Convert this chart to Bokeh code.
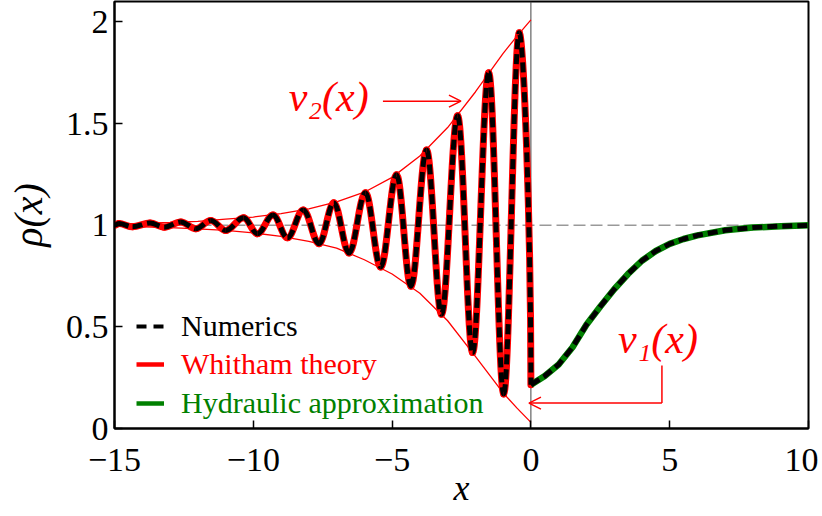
from bokeh.plotting import figure
from bokeh.models import (Range1d, FixedTicker, Span, Label, Arrow, OpenHead,
                          Legend, LegendItem, CustomJSTickFormatter)
from bokeh.embed import file_html
from bokeh.resources import INLINE

# ---------------- data ----------------
x_ticks = [-15, -10, -5, 0, 5, 10]
y_ticks = [0, 0.5, 1, 1.5, 2]

# extrema of the oscillating profile (x < 0)
peak_x = [-14.84, -13.72, -12.61, -11.53, -10.35, -9.29, -8.20, -7.10,
          -5.96, -4.84, -3.76, -2.64, -1.52, -0.42]
peak_rho = [1.008, 1.011, 1.016, 1.023, 1.036, 1.050, 1.075, 1.110,
            1.160, 1.248, 1.370, 1.538, 1.750, 1.946]
trough_x = [-14.35, -13.21, -12.07, -10.99, -9.85, -8.77, -7.63, -6.55,
            -5.41, -4.32, -3.22, -2.10, -0.98]
trough_rho = [0.992, 0.990, 0.982, 0.974, 0.958, 0.938, 0.909, 0.863,
              0.794, 0.700, 0.562, 0.374, 0.170]
wave_start_x, wave_start_rho = -15.0, 1.0
wave_end_x, wave_end_rho = 0.0, 0.215

# Whitham envelopes nu_1 (lower) and nu_2 (upper)
env_x = [-15, -14, -13, -12, -11, -10, -9, -8, -7, -6, -5, -4, -3, -2, -1, -0.5, 0]
nu2 = [1.005, 1.009, 1.013, 1.019, 1.030, 1.040, 1.057, 1.080, 1.115, 1.162,
       1.235, 1.340, 1.480, 1.655, 1.845, 1.930, 2.010]
nu1 = [0.995, 0.992, 0.988, 0.982, 0.974, 0.962, 0.945, 0.920, 0.887, 0.830,
       0.760, 0.665, 0.530, 0.355, 0.175, 0.100, 0.030]

# hydraulic approximation (x > 0)
hyd_x = [0, 0.5, 1, 1.5, 2, 2.5, 3, 3.5, 4, 4.5, 5, 5.5, 6, 7, 8, 9, 10]
hyd_rho = [0.215, 0.258, 0.315, 0.400, 0.510, 0.600, 0.685, 0.760, 0.825,
           0.873, 0.908, 0.932, 0.950, 0.975, 0.988, 0.995, 0.999]

legend_labels = ["Numerics", "Whitham theory", "Hydraulic approximation"]

# ---------------- smooth wave through the extrema (cubic Bezier) ----------------
pts = [(wave_start_x, wave_start_rho)] + sorted(
    list(zip(peak_x, peak_rho)) + list(zip(trough_x, trough_rho))) + [(wave_end_x, wave_end_rho)]
K = 0.363
seg = dict(x0=[], y0=[], x1=[], y1=[], cx0=[], cy0=[], cx1=[], cy1=[])
for i in range(len(pts) - 1):
    (xa, ya), (xb, yb) = pts[i], pts[i + 1]
    dx = xb - xa
    seg["x0"].append(xa); seg["y0"].append(ya)
    seg["x1"].append(xb); seg["y1"].append(yb)
    seg["cx0"].append(xa + K * dx); seg["cy0"].append(ya)
    if i == len(pts) - 2:
        seg["cx1"].append(xb); seg["cy1"].append(yb + 0.45 * (ya - yb))
    else:
        seg["cx1"].append(xb - K * dx); seg["cy1"].append(yb)

# ---------------- figure ----------------
SERIF = "Liberation Serif"
p = figure(width=818, height=514, x_range=Range1d(-15, 10), y_range=Range1d(0, 2.1),
           output_backend="svg", toolbar_location=None,
           min_border_left=114, min_border_right=10, min_border_top=1, min_border_bottom=86)
p.grid.visible = False
p.outline_line_color = "black"
p.outline_line_width = 2
p.background_fill_color = "white"
p.border_fill_color = "white"

fmt = CustomJSTickFormatter(code="return tick.toString().replace('-', '\\u2212');")
for ax in (p.xaxis[0], p.yaxis[0]):
    ax.axis_line_width = 2
    ax.major_tick_in = 8
    ax.major_tick_out = 0
    ax.major_tick_line_width = 1.5
    ax.minor_tick_line_color = None
    ax.major_label_text_font = SERIF
    ax.major_label_text_font_size = "34px"
    ax.major_label_text_color = "black"
    ax.formatter = fmt
    ax.axis_label_text_font = SERIF
    ax.axis_label_text_font_style = "italic"
    ax.axis_label_text_color = "black"
p.xaxis.ticker = FixedTicker(ticks=x_ticks)
p.yaxis.ticker = FixedTicker(ticks=y_ticks)
p.xaxis.major_label_standoff = 20
p.yaxis.major_label_standoff = 6
p.yaxis.axis_label = "ρ(x)"
p.yaxis.axis_label_text_font_size = "40px"
p.yaxis.axis_label_standoff = 12
p.xaxis.axis_label = "x"
p.xaxis.axis_label_text_font_size = "36px"
p.xaxis.axis_label_standoff = -6

# reference lines
p.add_layout(Span(location=1, dimension="width", line_color="#999999",
                  line_width=1.5, line_dash="12 5", level="underlay"))
p.add_layout(Span(location=0, dimension="height", line_color="#444444",
                  line_width=1, level="underlay"))

# envelopes
p.line(env_x, nu2, line_color="red", line_width=1.3)
p.line(env_x, nu1, line_color="red", line_width=1.3)

# Whitham (red, solid) under numerics (black, dashed); hydraulic (green) for x>0
p.bezier(**seg, line_color="red", line_width=7, line_cap="round")
p.line(hyd_x, hyd_rho, line_color="#008000", line_width=6.5)
p.bezier(**seg, line_color="black", line_width=5, line_dash="10 5")
p.line(hyd_x, hyd_rho, line_color="black", line_width=5, line_dash="10 5")

# annotations
p.add_layout(Label(x=-8.72, y=1.63, text="ν₂(x)", text_color="red", text_font=SERIF,
                   text_font_style="italic", text_font_size="42px",
                   text_baseline="middle", text_align="left"))
p.add_layout(Arrow(end=OpenHead(size=12, line_color="red", line_width=1.5),
                   x_start=-5.33, y_start=1.61, x_end=-2.52, y_end=1.61,
                   line_color="red", line_width=1.5))
p.add_layout(Label(x=3.14, y=0.44, text="ν₁(x)", text_color="red", text_font=SERIF,
                   text_font_style="italic", text_font_size="42px",
                   text_baseline="middle", text_align="left"))
p.add_layout(Arrow(end=None, x_start=4.72, y_start=0.31, x_end=4.72, y_end=0.125,
                   line_color="red", line_width=1.5))
p.add_layout(Arrow(end=OpenHead(size=12, line_color="red", line_width=1.5),
                   x_start=4.72, y_start=0.125, x_end=-0.07, y_end=0.125,
                   line_color="red", line_width=1.5))

# legends (one per entry so each text has its own colour)
nan = [float("nan")]
r_num = p.line(x=nan, y=nan, line_color="black", line_width=4, line_dash="10 7")
r_whi = p.line(x=nan, y=nan, line_color="red", line_width=4.5)
r_hyd = p.line(x=nan, y=nan, line_color="#008000", line_width=4.5)
for lab, r, col, ly in [(legend_labels[0], r_num, "black", 85),
                        (legend_labels[1], r_whi, "red", 47),
                        (legend_labels[2], r_hyd, "#008000", 8)]:
    leg = Legend(items=[LegendItem(label=lab, renderers=[r])], location=(22, ly),
                 border_line_color=None, background_fill_alpha=0, padding=0, margin=0,
                 spacing=0, glyph_width=28, glyph_height=32, label_height=32,
                 label_standoff=17, label_text_font=SERIF, label_text_font_size="30px",
                 label_text_color=col)
    p.add_layout(leg)

open("out.html", "w", encoding="utf-8").write(file_html(p, INLINE))
